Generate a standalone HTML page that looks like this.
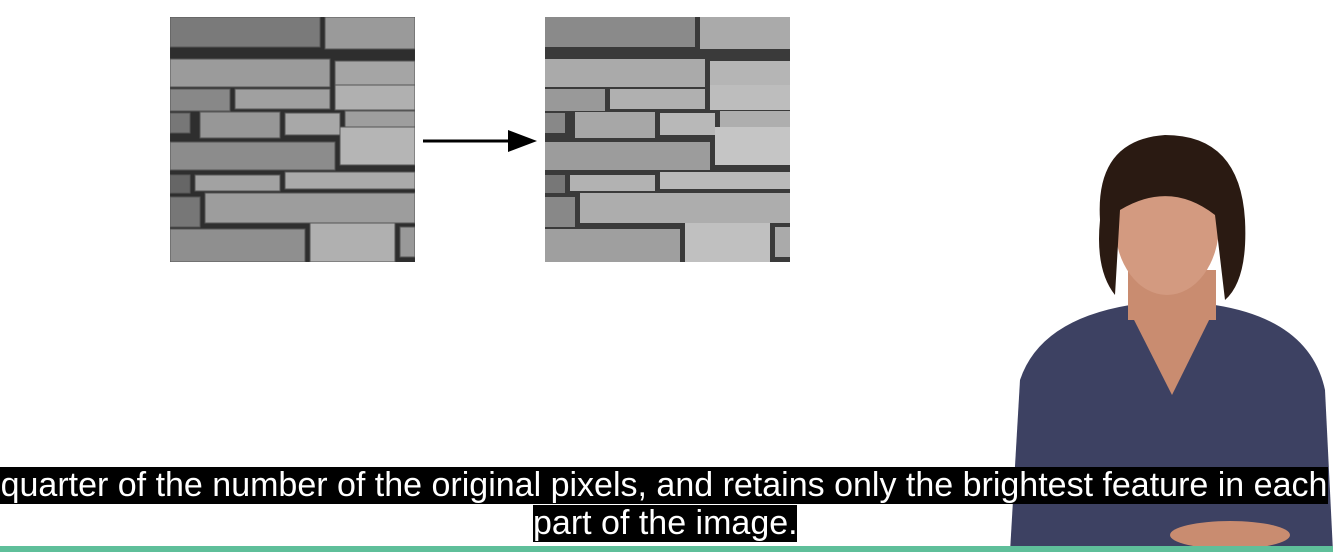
<!DOCTYPE html>
<html><head><meta charset="utf-8"><style>
html,body{margin:0;padding:0;background:#fff;width:1333px;height:552px;overflow:hidden;position:relative;font-family:"Liberation Sans",Arial,sans-serif}
.img{position:absolute;top:17px;width:245px;height:245px}
.cap{position:absolute;background:#000;color:#fff;font-size:34px;line-height:37px;white-space:nowrap}
</style></head><body>
<svg class="img" style="left:170px" viewBox="0 0 245 245">
<rect width="245" height="245" fill="#2e2e2e"/>
<g fill="#8a8a8a" stroke="#555" stroke-width="1">
<rect x="0" y="0" width="150" height="30" fill="#7a7a7a"/><rect x="155" y="0" width="90" height="32" fill="#9a9a9a"/>
<rect x="0" y="42" width="160" height="28" fill="#9b9b9b"/><rect x="165" y="44" width="80" height="24" fill="#a5a5a5"/>
<rect x="0" y="72" width="60" height="22" fill="#888"/><rect x="65" y="72" width="95" height="20" fill="#a0a0a0"/><rect x="165" y="68" width="80" height="25" fill="#b0b0b0"/>
<rect x="0" y="96" width="20" height="20" fill="#777"/><rect x="30" y="95" width="80" height="26" fill="#979797"/><rect x="115" y="96" width="55" height="22" fill="#a8a8a8"/><rect x="175" y="94" width="70" height="18" fill="#9e9e9e"/>
<rect x="0" y="125" width="165" height="28" fill="#8c8c8c"/><rect x="170" y="110" width="75" height="38" fill="#b5b5b5"/>
<rect x="0" y="158" width="20" height="18" fill="#666"/><rect x="25" y="158" width="85" height="16" fill="#a2a2a2"/><rect x="115" y="155" width="130" height="17" fill="#aaa"/>
<rect x="0" y="180" width="30" height="30" fill="#777"/><rect x="35" y="176" width="210" height="30" fill="#9d9d9d"/>
<rect x="0" y="212" width="135" height="33" fill="#8f8f8f"/><rect x="140" y="206" width="85" height="39" fill="#b0b0b0"/><rect x="230" y="210" width="15" height="30" fill="#999"/>
</g></svg>
<svg class="img" style="left:545px" viewBox="0 0 245 245" shape-rendering="crispEdges">
<rect width="245" height="245" fill="#3a3a3a"/>
<g fill="#9a9a9a">
<rect x="0" y="0" width="150" height="30" fill="#8a8a8a"/><rect x="155" y="0" width="90" height="32" fill="#aaa"/>
<rect x="0" y="42" width="160" height="28" fill="#aaa"/><rect x="165" y="44" width="80" height="24" fill="#b5b5b5"/>
<rect x="0" y="72" width="60" height="22" fill="#999"/><rect x="65" y="72" width="95" height="20" fill="#b0b0b0"/><rect x="165" y="68" width="80" height="25" fill="#bdbdbd"/>
<rect x="0" y="96" width="20" height="20" fill="#888"/><rect x="30" y="95" width="80" height="26" fill="#a7a7a7"/><rect x="115" y="96" width="55" height="22" fill="#b8b8b8"/><rect x="175" y="94" width="70" height="18" fill="#aeaeae"/>
<rect x="0" y="125" width="165" height="28" fill="#9c9c9c"/><rect x="170" y="110" width="75" height="38" fill="#c5c5c5"/>
<rect x="0" y="158" width="20" height="18" fill="#777"/><rect x="25" y="158" width="85" height="16" fill="#b2b2b2"/><rect x="115" y="155" width="130" height="17" fill="#bababa"/>
<rect x="0" y="180" width="30" height="30" fill="#888"/><rect x="35" y="176" width="210" height="30" fill="#adadad"/>
<rect x="0" y="212" width="135" height="33" fill="#9f9f9f"/><rect x="140" y="206" width="85" height="39" fill="#c0c0c0"/><rect x="230" y="210" width="15" height="30" fill="#aaa"/>
</g></svg>
<svg style="position:absolute;left:420px;top:128px" width="120" height="26">
<line x1="3" y1="13" x2="95" y2="13" stroke="#000" stroke-width="3"/><polygon points="88,2 117,13 88,24" fill="#000"/></svg>
<svg style="position:absolute;left:1000px;top:130px" width="333" height="422">
<path d="M10 422 L20 250 Q40 190 130 175 L215 175 Q310 190 325 260 L333 422 Z" fill="#3d4162"/>
<path d="M128 178 L172 265 L215 178 Z" fill="#c98c70"/>
<rect x="128" y="140" width="88" height="50" fill="#c98c70"/>
<ellipse cx="167" cy="95" rx="52" ry="70" fill="#d39a80"/>
<path d="M100 90 Q95 10 165 5 Q240 5 245 90 Q248 150 225 170 L215 85 Q170 50 120 80 L115 165 Q95 140 100 90 Z" fill="#2a1a12"/>
<ellipse cx="230" cy="405" rx="60" ry="14" fill="#c98c70"/>
</svg>
<div class="cap" style="left:0;top:467px;width:1328px;text-align:center">quarter of the number of the original pixels, and retains only the brightest feature in each</div>
<div class="cap" style="left:533px;top:505px;width:264px;text-align:center">part of the image.</div>
<div style="position:absolute;left:0;top:546px;width:1333px;height:6px;background:#5fbf9a"></div>
</body></html>
